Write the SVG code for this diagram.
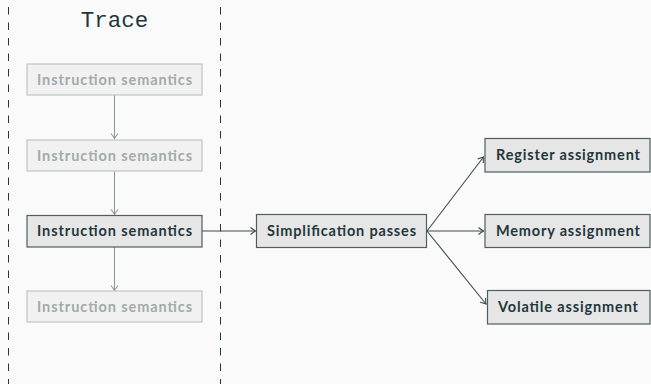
<svg xmlns="http://www.w3.org/2000/svg" width="651" height="384" viewBox="0 0 651 384">
  <style>
    .bg { fill: #fafafa; }
    .lane { stroke: #23373b; stroke-width: 1; stroke-dasharray: 7.5 8; fill: none; }
    .title { font-family: "Liberation Mono", "DejaVu Sans Mono", monospace; font-size: 22.5px; fill: #23373b; }
    .box { fill: #e6e6e6; stroke: #4f5e60; stroke-width: 1.2; }
    .faded { fill: #f1f1f1; stroke: #bfc5c6; stroke-width: 1.2; }
    .label { font-family: Lato, "Open Sans", sans-serif; font-weight: bold; font-size: 14.5px; fill: #23373b; text-anchor: middle; }
    .flabel { font-family: Lato, "Open Sans", sans-serif; font-weight: bold; font-size: 14.5px; fill: #a2aaab; text-anchor: middle; }
    .edge { stroke: #3a4a4c; stroke-width: 1.1; fill: none; marker-end: url(#tip); }
    .fedge { stroke: #8e9999; stroke-width: 1.1; fill: none; marker-end: url(#ftip); }
  </style>
  <defs>
    <marker id="tip" markerUnits="userSpaceOnUse" markerWidth="10" markerHeight="10" refX="0" refY="0" viewBox="-6 -5 7 10" orient="auto">
      <path d="M-5,-3.5 Q-1.5,-0.8 0,0 Q-1.5,0.8 -5,3.5" stroke="#3a4a4c" stroke-width="1.1" fill="none"/>
    </marker>
    <marker id="ftip" markerUnits="userSpaceOnUse" markerWidth="10" markerHeight="10" refX="0" refY="0" viewBox="-6 -5 7 10" orient="auto">
      <path d="M-5,-3.5 Q-1.5,-0.8 0,0 Q-1.5,0.8 -5,3.5" stroke="#8e9999" stroke-width="1.1" fill="none"/>
    </marker>
  </defs>

  <rect class="bg" x="0" y="0" width="651" height="384"/>

  <!-- trace lane -->
  <g id="lane">
    <line class="lane" x1="8.5" y1="7" x2="8.5" y2="384"/>
    <line class="lane" x1="220.5" y1="7" x2="220.5" y2="384"/>
    <text class="title" x="114.5" y="27" text-anchor="middle">Trace</text>
  </g>

  <g id="connectors">
    <line class="fedge" x1="114.5" y1="95" x2="114.5" y2="138.5"/>
    <line class="fedge" x1="114.5" y1="171" x2="114.5" y2="214.5"/>
    <line class="fedge" x1="114.5" y1="247" x2="114.5" y2="290.5"/>
    <line class="edge" x1="202" y1="231" x2="255.5" y2="231"/>
    <line class="edge" x1="427" y1="231" x2="483.5" y2="157"/>
    <line class="edge" x1="427" y1="231" x2="483.5" y2="231"/>
    <line class="edge" x1="427" y1="231" x2="486" y2="304"/>
  </g>

  <g id="instr1">
    <rect class="faded" x="27" y="64" width="175" height="31"/>
    <text class="flabel" x="114.5" y="84.5" textLength="155" lengthAdjust="spacing">Instruction semantics</text>
  </g>
  <g id="instr2">
    <rect class="faded" x="27" y="140" width="175" height="31"/>
    <text class="flabel" x="114.5" y="160.5" textLength="155" lengthAdjust="spacing">Instruction semantics</text>
  </g>
  <g id="instr3">
    <rect class="box" x="27" y="215.5" width="175" height="31.5"/>
    <text class="label" x="114.5" y="236" textLength="155" lengthAdjust="spacing">Instruction semantics</text>
  </g>
  <g id="instr4">
    <rect class="faded" x="27" y="291" width="175" height="31"/>
    <text class="flabel" x="114.5" y="311.5" textLength="155" lengthAdjust="spacing">Instruction semantics</text>
  </g>

  <g id="simplify">
    <rect class="box" x="256.5" y="214.5" width="170" height="33"/>
    <text class="label" x="341.5" y="236" textLength="149" lengthAdjust="spacing">Simplification passes</text>
  </g>

  <g id="register">
    <rect class="box" x="485" y="138.5" width="165" height="33.5"/>
    <text class="label" x="568" y="160" textLength="144" lengthAdjust="spacing">Register assignment</text>
  </g>
  <g id="memory">
    <rect class="box" x="485" y="214.5" width="165" height="33"/>
    <text class="label" x="568" y="236" textLength="144" lengthAdjust="spacing">Memory assignment</text>
  </g>
  <g id="volatile">
    <rect class="box" x="487.5" y="290.5" width="162.5" height="33.5"/>
    <text class="label" x="568" y="312" textLength="140" lengthAdjust="spacing">Volatile assignment</text>
  </g>
</svg>
